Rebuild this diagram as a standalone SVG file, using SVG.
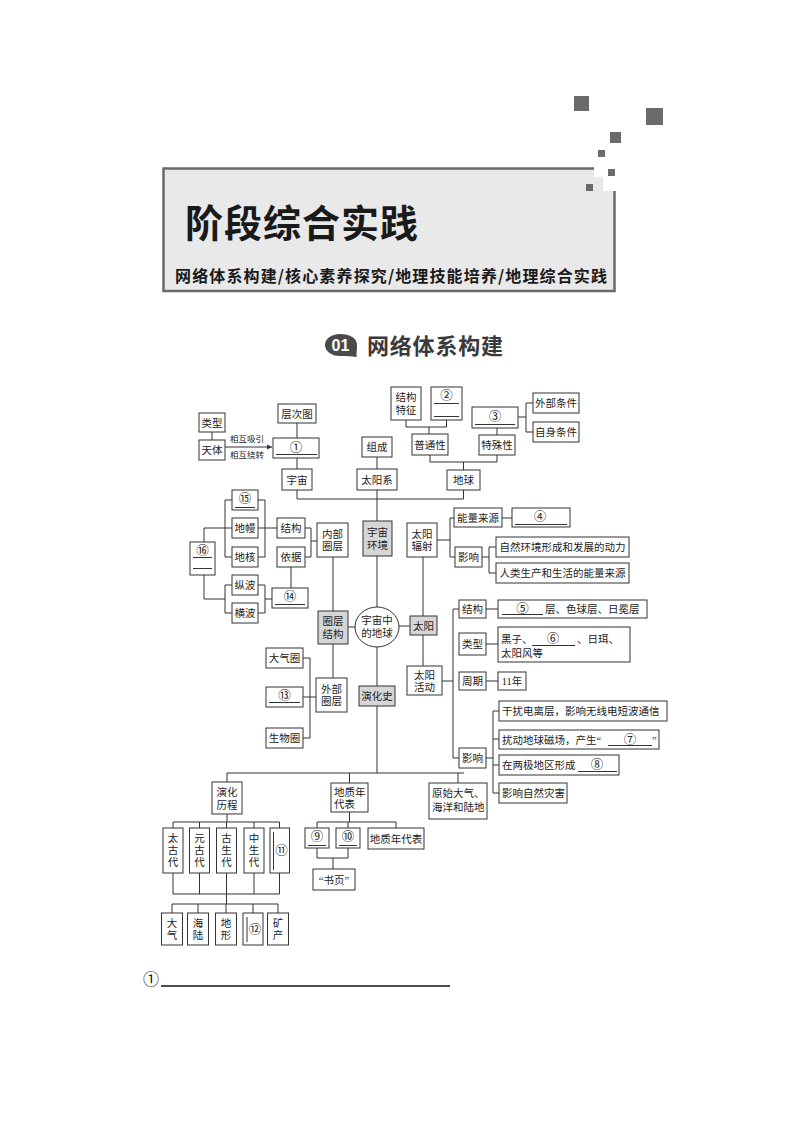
<svg xmlns="http://www.w3.org/2000/svg" width="794" height="1123" viewBox="0 0 794 1123">
<style>
.b{fill:#fff;stroke:#333;stroke-width:1}
.g{fill:#d6d6d6;stroke:#333;stroke-width:1}
.t{font-family:"Liberation Serif","Noto Sans CJK SC",serif;font-size:10.5px;fill:#222}
.s{font-size:8.5px}
.n{font-size:12.5px}
.m{text-anchor:middle}
.u{stroke:#333;stroke-width:1;fill:none}
.ln{stroke:#333;stroke-width:1;fill:none}
.sq{fill:#6b6b6b}
</style>
<defs>
<marker id="ar" markerWidth="6" markerHeight="6" refX="5" refY="3" orient="auto" markerUnits="userSpaceOnUse"><path d="M0,0.5 L5,3 L0,5.5 Z" fill="#333"/></marker>
</defs>
<rect width="794" height="1123" fill="#fff"/>
<g id="header">
<rect x="163.5" y="168.5" width="451" height="122.5" fill="#e9e9e9" stroke="#6a6a6a" stroke-width="2.5"/>
<rect x="594" y="164" width="24" height="13" fill="#fff"/>
<rect x="603" y="164" width="15" height="27" fill="#fff"/>
<rect class="sq" x="574" y="96" width="15" height="15"/>
<rect class="sq" x="646" y="108" width="17" height="17"/>
<rect class="sq" x="610" y="132" width="11" height="11"/>
<rect class="sq" x="598" y="150" width="7" height="7"/>
<rect class="sq" x="608" y="169" width="7" height="7"/>
<rect class="sq" x="586" y="184" width="7" height="7"/>
<text x="185" y="237" font-family="'Noto Sans CJK SC',sans-serif" font-size="38" font-weight="bold" fill="#1a1a1a" letter-spacing="1">阶段综合实践</text>
<text x="175" y="282" font-family="'Noto Sans CJK SC',sans-serif" font-size="16" font-weight="bold" fill="#1a1a1a" textLength="432" lengthAdjust="spacing">网络体系构建/核心素养探究/地理技能培养/地理综合实践</text>
</g>
<g id="section-title">
<path d="M340 334 C350 334 357 338 357 345 C357 351 356 355 357 357 C352 356 347 356 340 356 C331 356 325 351 325 345 C325 339 331 334 340 334 Z" fill="#4a4a4a"/>
<text x="340.5" y="351" text-anchor="middle" font-family="'Liberation Sans',sans-serif" font-size="16" font-weight="bold" fill="#fff">01</text>
<text x="367" y="354" font-family="'Noto Sans CJK SC',sans-serif" font-size="22" font-weight="bold" fill="#3a3a3a" textLength="136" lengthAdjust="spacing">网络体系构建</text>
</g>

<g id="connectors" class="ln">
<path d="M212 432V440"/>
<path d="M225 447H272" marker-end="url(#ar)"/>
<path d="M297 423V438"/>
<path d="M297 458V469"/>
<path d="M377 457V469"/>
<path d="M406 420V427H446.5V420M429 427V434"/>
<path d="M518 417H526M533 403H526V432H533"/>
<path d="M497 428V435"/>
<path d="M430 455V462H497V455M463.5 462V470"/>
<path d="M297 490V499H463.5V490M377 490V521"/>
<path d="M377 556V607"/>
<path d="M232 500H225V557H232M232 528H204V542"/>
<path d="M258 500H265V557H258M258 528H277"/>
<path d="M305 528H311V557H305M311 541H317"/>
<path d="M291 567V588"/>
<path d="M204 575V599H225M232 585H225V613H232"/>
<path d="M258 585H265V613H258M265 599H272"/>
<path d="M333 557V611"/>
<path d="M348 627H355"/>
<path d="M333 644V678"/>
<path d="M303 658H310V738H303M303 697H316"/>
<path d="M399 626H410"/>
<path d="M423 557V616"/>
<path d="M437 540H450M454 518H450V557H455"/>
<path d="M502 518H512"/>
<path d="M482 557H489M496 547H489V573H496"/>
<path d="M423 635V666"/>
<path d="M442 681H453M459 609H453V758H459"/>
<path d="M486 609H498M486 644H498M486 681H498"/>
<path d="M486 758H493M499 711H493V793H499M493 739H499M493 765H499"/>
<path d="M377 647V686"/>
<path d="M377 706V773"/>
<path d="M227 773H464M227 773V782M349.5 773V783M458 773V783"/>
<path d="M227 814V822M173 822H279.5M173 822V828M199.5 822V828M226.5 822V828M254 822V828M279.5 822V828"/>
<path d="M173 873V894H279.5V873M199.5 873V894M226.5 873V894M254 873V894M226.5 894V904"/>
<path d="M172 904H278M172 904V913M198 904V913M226 904V913M253 904V913M278 904V913"/>
<path d="M349.5 812V822M317 822H396M317 822V828M348 822V828M396 822V828"/>
<path d="M317 848V858H348V848M333 858V869"/>
</g>

<g id="n-cengcitu"><rect class="b" x="278" y="404" width="38" height="19"/><text class="t m" x="297" y="417.5">层次图</text></g>
<g id="n-leixing"><rect class="b" x="199" y="413" width="26" height="19"/><text class="t m" x="212" y="426.5">类型</text></g>
<g id="n-tianti"><rect class="b" x="199" y="440" width="26" height="20"/><text class="t m" x="212" y="454">天体</text></g>
<g id="n-label-arrow"><text class="t s" x="230" y="442">相互吸引</text><text class="t s" x="230" y="458">相互绕转</text></g>
<g id="n-1"><rect class="b" x="273" y="438" width="46" height="20"/><text class="t n m" x="296" y="452">①</text><path class="u" d="M276 454.5H317"/></g>
<g id="n-yuzhou"><rect class="b" x="282" y="469" width="30" height="21"/><text class="t m" x="297" y="483.5">宇宙</text></g>
<g id="n-zucheng"><rect class="b" x="362" y="437" width="30" height="20"/><text class="t m" x="377" y="451">组成</text></g>
<g id="n-taiyangxi"><rect class="b" x="357" y="469" width="40" height="21"/><text class="t m" x="377" y="483.5">太阳系</text></g>
<g id="n-jiegoutezheng"><rect class="b" x="391" y="387" width="30" height="33"/><text class="t m" x="406" y="401">结构</text><text class="t m" x="406" y="413.5">特征</text></g>
<g id="n-2"><rect class="b" x="431" y="387" width="31" height="33"/><text class="t n m" x="446.5" y="400">②</text><path class="u" d="M434 403.5H459M434 416.5H459"/></g>
<g id="n-putongxing"><rect class="b" x="412" y="434" width="36" height="21"/><text class="t m" x="430" y="448.5">普通性</text></g>
<g id="n-3"><rect class="b" x="472" y="407" width="46" height="21"/><text class="t n m" x="495" y="421">③</text><path class="u" d="M475 424.5H515"/></g>
<g id="n-teshuxing"><rect class="b" x="479" y="435" width="36" height="20"/><text class="t m" x="497" y="449">特殊性</text></g>
<g id="n-waibu"><rect class="b" x="533" y="393" width="46" height="20"/><text class="t m" x="556" y="407">外部条件</text></g>
<g id="n-zishen"><rect class="b" x="533" y="422" width="46" height="20"/><text class="t m" x="556" y="436">自身条件</text></g>
<g id="n-diqiu"><rect class="b" x="447" y="470" width="33" height="20"/><text class="t m" x="463.5" y="484">地球</text></g>

<g id="n-15"><rect class="b" x="232" y="490" width="26" height="20"/><text class="t n m" x="245" y="503">⑮</text><path class="u" d="M235 507.5H255"/></g>
<g id="n-diman"><rect class="b" x="232" y="518" width="26" height="20"/><text class="t m" x="245" y="532">地幔</text></g>
<g id="n-dihe"><rect class="b" x="232" y="547" width="26" height="20"/><text class="t m" x="245" y="561">地核</text></g>
<g id="n-16"><rect class="b" x="190" y="542" width="25" height="33"/><text class="t n m" x="202.5" y="555">⑯</text><path class="u" d="M193 557.5H212M193 568.5H212"/></g>
<g id="n-zongbo"><rect class="b" x="232" y="575" width="26" height="20"/><text class="t m" x="245" y="589">纵波</text></g>
<g id="n-hengbo"><rect class="b" x="232" y="603" width="26" height="20"/><text class="t m" x="245" y="617">横波</text></g>
<g id="n-jiegou-l"><rect class="b" x="277" y="518" width="28" height="20"/><text class="t m" x="291" y="532">结构</text></g>
<g id="n-yiju"><rect class="b" x="277" y="547" width="28" height="20"/><text class="t m" x="291" y="561">依据</text></g>
<g id="n-14"><rect class="b" x="272" y="588" width="36" height="20"/><text class="t n m" x="290" y="601">⑭</text><path class="u" d="M275 604.5H305"/></g>
<g id="n-neibu"><rect class="b" x="317" y="523" width="31" height="34"/><text class="t m" x="332.5" y="537.5">内部</text><text class="t m" x="332.5" y="550">圈层</text></g>
<g id="n-yuzhouhuanjing"><rect class="g" x="363" y="521" width="29" height="35"/><text class="t m" x="377.5" y="536">宇宙</text><text class="t m" x="377.5" y="548.5">环境</text></g>
<g id="n-quancengjiegou"><rect class="g" x="318" y="611" width="30" height="33"/><text class="t m" x="333" y="625">圈层</text><text class="t m" x="333" y="637.5">结构</text></g>
<g id="n-center"><ellipse class="b" cx="377" cy="627" rx="22" ry="20"/><text class="t m" x="377" y="623.5">宇宙中</text><text class="t m" x="377" y="636.5">的地球</text></g>
<g id="n-taiyangfushe"><rect class="b" x="407" y="523" width="30" height="34"/><text class="t m" x="422" y="537.5">太阳</text><text class="t m" x="422" y="550">辐射</text></g>
<g id="n-nengliang"><rect class="b" x="454" y="508" width="48" height="19"/><text class="t m" x="478" y="521.5">能量来源</text></g>
<g id="n-4"><rect class="b" x="512" y="508" width="58" height="19"/><text class="t n m" x="540" y="521">④</text><path class="u" d="M515 524.5H567"/></g>
<g id="n-yingxiang1"><rect class="b" x="455" y="547" width="27" height="20"/><text class="t m" x="468.5" y="561">影响</text></g>
<g id="n-ziran"><rect class="b" x="496" y="537" width="133" height="20"/><text class="t m" x="562.5" y="551">自然环境形成和发展的动力</text></g>
<g id="n-renlei"><rect class="b" x="496" y="563" width="133" height="20"/><text class="t m" x="562.5" y="577">人类生产和生活的能量来源</text></g>
<g id="n-taiyang"><rect class="g" x="410" y="616" width="27" height="19"/><text class="t m" x="423.5" y="629.5">太阳</text></g>
<g id="n-daqiquan"><rect class="b" x="266" y="648" width="37" height="20"/><text class="t m" x="284.5" y="662">大气圈</text></g>
<g id="n-13"><rect class="b" x="266" y="687" width="37" height="20"/><text class="t n m" x="284.5" y="700">⑬</text><path class="u" d="M269 702.5H300"/></g>
<g id="n-shengwuquan"><rect class="b" x="266" y="728" width="37" height="20"/><text class="t m" x="284.5" y="742">生物圈</text></g>
<g id="n-waibuquan"><rect class="b" x="316" y="678" width="31" height="34"/><text class="t m" x="331.5" y="692.5">外部</text><text class="t m" x="331.5" y="705">圈层</text></g>
<g id="n-yanhuashi"><rect class="g" x="359" y="686" width="36" height="20"/><text class="t m" x="377" y="700">演化史</text></g>
<g id="n-taiyanghuodong"><rect class="b" x="407" y="666" width="35" height="29"/><text class="t m" x="424.5" y="678.5">太阳</text><text class="t m" x="424.5" y="690.5">活动</text></g>
<g id="n-jiegou-r"><rect class="b" x="459" y="600" width="27" height="18"/><text class="t m" x="472.5" y="613">结构</text></g>
<g id="n-5"><rect class="b" x="498" y="600" width="149" height="18"/><text class="t n m" x="522.5" y="613">⑤</text><path class="u" d="M502 614.5H543"/><text class="t" x="545" y="613">层、色球层、日冕层</text></g>
<g id="n-leixing-r"><rect class="b" x="459" y="633" width="27" height="22"/><text class="t m" x="472.5" y="648">类型</text></g>
<g id="n-6"><rect class="b" x="498" y="627" width="132" height="35"/><text class="t" x="501" y="643">黑子、</text><text class="t n m" x="553" y="643">⑥</text><path class="u" d="M532 645.5H575"/><text class="t" x="577" y="643">、日珥、</text><text class="t" x="501" y="657">太阳风等</text></g>
<g id="n-zhouqi"><rect class="b" x="459" y="672" width="27" height="18"/><text class="t m" x="472.5" y="685">周期</text></g>
<g id="n-11nian"><rect class="b" x="498" y="672" width="28" height="18"/><text class="t m" x="512" y="685">11年</text></g>
<g id="n-yingxiang2"><rect class="b" x="459" y="748" width="27" height="20"/><text class="t m" x="472.5" y="762">影响</text></g>
<g id="n-ganrao"><rect class="b" x="499" y="701" width="168" height="20"/><text class="t" x="502" y="715">干扰电离层，影响无线电短波通信</text></g>
<g id="n-7"><rect class="b" x="499" y="730" width="160" height="19"/><text class="t" x="502" y="743.5">扰动地球磁场，产生“</text><text class="t n m" x="630" y="743.5">⑦</text><path class="u" d="M608 745.5H652"/><text class="t" x="652" y="743.5">”</text></g>
<g id="n-8"><rect class="b" x="499" y="755" width="120" height="20"/><text class="t" x="502" y="769">在两极地区形成</text><text class="t n m" x="597" y="769">⑧</text><path class="u" d="M578 771.5H617"/></g>
<g id="n-zaihai"><rect class="b" x="499" y="783" width="68" height="20"/><text class="t" x="502" y="797">影响自然灾害</text></g>
<g id="n-yuanshi"><rect class="b" x="429" y="783" width="58" height="36"/><text class="t" x="432" y="797">原始大气、</text><text class="t" x="432" y="811">海洋和陆地</text></g>
<g id="n-yanhualicheng"><rect class="b" x="212" y="782" width="30" height="32"/><text class="t m" x="227" y="796">演化</text><text class="t m" x="227" y="808.5">历程</text></g>
<g id="n-dizhi"><rect class="b" x="331" y="783" width="37" height="29"/><text class="t" x="334" y="796">地质年</text><text class="t" x="334" y="808">代表</text></g>
<g id="n-taigu"><rect class="b" x="163" y="828" width="20" height="45"/><text class="t m" x="173" y="842">太<tspan x="173" dy="12">古</tspan><tspan x="173" dy="12">代</tspan></text></g>
<g id="n-yuangu"><rect class="b" x="189.5" y="828" width="20" height="45"/><text class="t m" x="199.5" y="842">元<tspan x="199.5" dy="12">古</tspan><tspan x="199.5" dy="12">代</tspan></text></g>
<g id="n-gusheng"><rect class="b" x="216.5" y="828" width="20" height="45"/><text class="t m" x="226.5" y="842">古<tspan x="226.5" dy="12">生</tspan><tspan x="226.5" dy="12">代</tspan></text></g>
<g id="n-zhongsheng"><rect class="b" x="244" y="828" width="20" height="45"/><text class="t m" x="254" y="842">中<tspan x="254" dy="12">生</tspan><tspan x="254" dy="12">代</tspan></text></g>
<g id="n-11"><rect class="b" x="270" y="828" width="19.5" height="45"/><path class="u" d="M273.5 832V870"/><text class="t n m" x="281.5" y="855">⑪</text></g>
<g id="n-9"><rect class="b" x="305" y="828" width="24" height="20"/><text class="t n m" x="317" y="841">⑨</text><path class="u" d="M308 845.5H326"/></g>
<g id="n-10"><rect class="b" x="336" y="828" width="24" height="20"/><text class="t n m" x="348" y="841">⑩</text><path class="u" d="M339 845.5H357"/></g>
<g id="n-dizhi2"><rect class="b" x="368" y="828" width="56" height="21"/><text class="t m" x="396" y="842.5">地质年代表</text></g>
<g id="n-shuye"><rect class="b" x="313" y="869" width="42" height="21"/><text class="t m" x="334" y="883.5">“书页”</text></g>
<g id="n-daqi"><rect class="b" x="161.5" y="913" width="21" height="32"/><text class="t m" x="172" y="927">大<tspan x="172" dy="12">气</tspan></text></g>
<g id="n-hailu"><rect class="b" x="187.5" y="913" width="21" height="32"/><text class="t m" x="198" y="927">海<tspan x="198" dy="12">陆</tspan></text></g>
<g id="n-dixing"><rect class="b" x="215.5" y="913" width="21" height="32"/><text class="t m" x="226" y="927">地<tspan x="226" dy="12">形</tspan></text></g>
<g id="n-12"><rect class="b" x="243" y="913" width="20" height="32"/><path class="u" d="M247 917V942"/><text class="t n m" x="255" y="934">⑫</text></g>
<g id="n-kuangchan"><rect class="b" x="267.5" y="913" width="21" height="32"/><text class="t m" x="278" y="927">矿<tspan x="278" dy="12">产</tspan></text></g>

<g id="answer-line">
<text x="143" y="985" font-family="'Liberation Serif','Noto Sans CJK SC',serif" font-size="16" fill="#111">①</text>
<path d="M161 986H450" stroke="#111" stroke-width="1.5"/>
</g>
</svg>
